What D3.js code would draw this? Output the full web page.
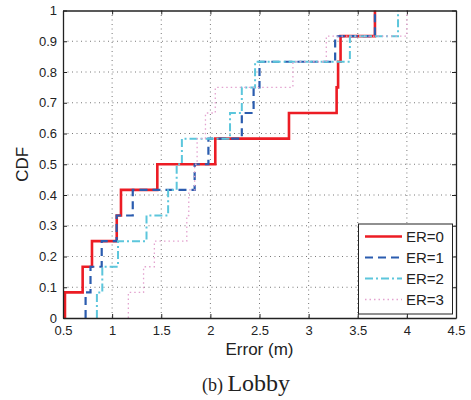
<!DOCTYPE html>
<html>
<head>
<meta charset="utf-8">
<script src="https://cdn.jsdelivr.net/npm/d3@7"></script>
<style>
  html, body { margin: 0; padding: 0; background: #fff; }
  svg { display: block; }
</style>
</head>
<body>
<svg id="chart" width="471" height="400"></svg>
<script>
// ---- data ----
const seriesNames = ["ER=0", "ER=1", "ER=2", "ER=3"];
const er0 = [0.52, 0.70, 0.795, 1.047, 1.09, 1.46, 2.05, 2.80, 3.285, 3.30, 3.325, 3.675];
const er1 = [0.73, 0.78, 0.894, 1.046, 1.21, 1.84, 1.98, 2.32, 2.44, 2.50, 3.27, 3.675];
const er2 = [0.845, 0.90, 1.06, 1.35, 1.57, 1.657, 1.71, 2.20, 2.32, 2.455, 3.42, 3.91];
const er3 = [1.165, 1.32, 1.43, 1.76, 1.78, 1.84, 1.865, 1.95, 2.05, 2.84, 3.18, 4.0];
const xTicks = [0.5, 1, 1.5, 2, 2.5, 3, 3.5, 4, 4.5];
const xTickLabels = ["0.5", "1", "1.5", "2", "2.5", "3", "3.5", "4", "4.5"];
const yTicks = [0, 0.1, 0.2, 0.3, 0.4, 0.5, 0.6, 0.7, 0.8, 0.9, 1];
const yTickLabels = ["0", "0.1", "0.2", "0.3", "0.4", "0.5", "0.6", "0.7", "0.8", "0.9", "1"];

const allSeries = [er0, er1, er2, er3];
const styles = [
  { color: "#ec1c24", width: 2.6, dash: null },
  { color: "#2b5caf", width: 2.2, dash: "8,5" },
  { color: "#5cc6dc", width: 2.0, dash: "8,3,2,3" },
  { color: "#e3a3cf", width: 1.3, dash: "1.5,3" }
];

const svg = d3.select("#chart");
const L = 63, R = 456, T = 10.5, B = 318;
const x = d3.scaleLinear().domain([0.5, 4.5]).range([L, R]);
const y = d3.scaleLinear().domain([0, 1]).range([B, T]);
const font = "Helvetica, Arial, 'Liberation Sans', sans-serif";

// grid
const grid = svg.append("g").attr("stroke", "#555").attr("stroke-width", 0.8)
  .attr("stroke-dasharray", "1,3.5");
xTicks.slice(1, -1).forEach(v => grid.append("line")
  .attr("x1", x(v)).attr("x2", x(v)).attr("y1", T).attr("y2", B));
yTicks.slice(1, -1).forEach(v => grid.append("line")
  .attr("x1", L).attr("x2", R).attr("y1", y(v)).attr("y2", y(v)));

// series
const line = d3.line().x(d => x(d[0])).y(d => y(d[1])).curve(d3.curveStepAfter);
const n = 12;
allSeries.forEach((vals, i) => {
  const pts = [[vals[0], 0]].concat(vals.map((v, k) => [v, (k + 1) / n]));
  const s = styles[i];
  svg.append("path").attr("d", line(pts)).attr("fill", "none")
    .attr("stroke", s.color).attr("stroke-width", s.width)
    .attr("stroke-dasharray", s.dash);
});

// axes frame
const axG = svg.append("g");
const xAxB = d3.axisBottom(x).tickValues(xTicks).tickFormat((d, i) => xTickLabels[i]).tickSizeInner(-4).tickSizeOuter(0).tickPadding(8);
const xAxT = d3.axisTop(x).tickValues(xTicks).tickFormat("").tickSizeInner(-4).tickSizeOuter(0);
const yAxL = d3.axisLeft(y).tickValues(yTicks).tickFormat((d, i) => yTickLabels[i]).tickSizeInner(-4).tickSizeOuter(0).tickPadding(6);
const yAxR = d3.axisRight(y).tickValues(yTicks).tickFormat("").tickSizeInner(-4).tickSizeOuter(0);
[[xAxB, `translate(0,${B})`], [xAxT, `translate(0,${T})`], [yAxL, `translate(${L},0)`], [yAxR, `translate(${R},0)`]]
  .forEach(([ax, tr]) => {
    const g = axG.append("g").attr("transform", tr).call(ax);
    g.select(".domain").attr("stroke", "#222").attr("stroke-width", 1.3);
    g.selectAll(".tick line").attr("stroke", "#222");
    g.selectAll("text").attr("font-family", font).attr("font-size", 13).attr("fill", "#222");
  });

// axis labels
svg.append("text").attr("x", (L + R) / 2).attr("y", 355).attr("text-anchor", "middle")
  .attr("font-family", font).attr("font-size", 17).attr("fill", "#222").text("Error (m)");
svg.append("text").attr("transform", `translate(28,${(T + B) / 2}) rotate(-90)`)
  .attr("text-anchor", "middle").attr("font-family", font).attr("font-size", 17)
  .attr("fill", "#222").text("CDF");

// caption
const cap = svg.append("text").attr("x", 246).attr("y", 391).attr("text-anchor", "middle")
  .attr("font-family", "'Liberation Serif', 'Times New Roman', serif").attr("fill", "#222");
cap.append("tspan").attr("font-size", 18).text("(b) ");
cap.append("tspan").attr("font-size", 24).text("Lobby");

// legend
const lg = svg.append("g");
lg.append("rect").attr("x", 358.5).attr("y", 224).attr("width", 94).attr("height", 90)
  .attr("fill", "#fff").attr("stroke", "#222").attr("stroke-width", 1);
seriesNames.forEach((name, i) => {
  const yy = 236.5 + i * 21;
  const s = styles[i];
  lg.append("line").attr("x1", 365).attr("x2", 402).attr("y1", yy).attr("y2", yy)
    .attr("stroke", s.color).attr("stroke-width", s.width).attr("stroke-dasharray", s.dash);
  lg.append("text").attr("x", 406).attr("y", yy + 5.5).attr("font-family", font)
    .attr("font-size", 15).attr("fill", "#222").text(name);
});
</script>
</body>
</html>
